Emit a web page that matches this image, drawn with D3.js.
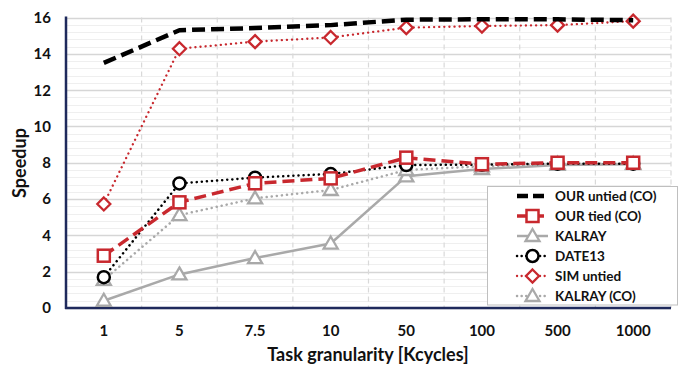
<!DOCTYPE html>
<html>
<head>
<meta charset="utf-8">
<script src="https://cdn.jsdelivr.net/npm/d3@7"></script>
<style>
  body { margin: 0; background: #fff; }
  text { font-family: Lato, "Open Sans", sans-serif; font-weight: bold; fill: #111; }
</style>
</head>
<body>
<svg class="chart" width="682" height="369"></svg>
<script>
// catégories (axe x) et séries
const categories = ["1", "5", "7.5", "10", "50", "100", "500", "1000"];
const yTicks = [0, 2, 4, 6, 8, 10, 12, 14, 16];

const ourUntied = [13.5, 15.3, 15.42, 15.58, 15.88, 15.9, 15.9, 15.85];
const ourTied   = [2.88, 5.82, 6.87, 7.14, 8.28, 7.92, 8.0, 8.0];
const kalray    = [0.4, 1.85, 2.75, 3.55, 7.25, 7.65, 7.88, 7.92];
const date13    = [1.7, 6.86, 7.18, 7.38, 7.87, 7.9, 7.95, 7.95];
const simUntied = [5.73, 14.28, 14.67, 14.9, 15.44, 15.53, 15.58, 15.8];
const kalrayCO  = [1.55, 5.12, 6.04, 6.5, 7.6, 7.8, 7.95, 7.95];

const red = "#c8282e";
const grey = "#a9a9a9";

const series = [
  { name: "OUR untied (CO)", values: ourUntied, color: "#000", width: 4.5, dash: "13,6", cap: "butt", marker: null },
  { name: "OUR tied (CO)", values: ourTied, color: red, width: 3.5, dash: "12,6", cap: "butt", marker: "square" },
  { name: "KALRAY", values: kalray, color: grey, width: 2.5, dash: null, cap: "butt", marker: "triangle" },
  { name: "DATE13", values: date13, color: "#000", width: 2.5, dash: "0.1,5", cap: "round", marker: "circle" },
  { name: "SIM untied", values: simUntied, color: red, width: 2.3, dash: "0.1,5", cap: "round", marker: "diamond" },
  { name: "KALRAY (CO)", values: kalrayCO, color: grey, width: 2.5, dash: "0.1,5", cap: "round", marker: "triangle" }
];

// ordre de dessin (le premier plan à la fin)
const drawOrder = ["KALRAY", "KALRAY (CO)", "DATE13", "OUR tied (CO)", "SIM untied", "OUR untied (CO)"];

const svg = d3.select(".chart");
const plotL = 66, plotR = 671, plotT = 17.5, plotB = 308;

const band = d3.scaleBand().domain(categories).range([plotL, plotR]);
const x = d3.scalePoint().domain(categories).range([plotL, plotR]).padding(0.5);
const y = d3.scaleLinear().domain([0, 16]).range([plotB, plotT]);

// grille mineure
svg.append("g").selectAll("line")
  .data(d3.range(0, 16.01, 0.4))
  .enter().append("line")
  .attr("x1", plotL).attr("x2", plotR)
  .attr("y1", d => Math.round(y(d)) + 0.5).attr("y2", d => Math.round(y(d)) + 0.5)
  .attr("stroke", "#efefef").attr("stroke-width", 1);

// grille majeure
svg.append("g").selectAll("line")
  .data(yTicks)
  .enter().append("line")
  .attr("x1", plotL).attr("x2", plotR)
  .attr("y1", d => Math.round(y(d)) + 0.5).attr("y2", d => Math.round(y(d)) + 0.5)
  .attr("stroke", "#d6d6d6").attr("stroke-width", 1.3);

// grille verticale pointillée
const bounds = categories.slice(1).map(c => band(c)).concat([plotR]);
svg.append("g").selectAll("line")
  .data(bounds)
  .enter().append("line")
  .attr("x1", d => d).attr("x2", d => d)
  .attr("y1", plotT).attr("y2", plotB)
  .attr("stroke", "#d9d9d9").attr("stroke-width", 1.2)
  .attr("stroke-dasharray", "5,4");

// axes
svg.append("line").attr("x1", plotL).attr("x2", plotL).attr("y1", plotT - 1).attr("y2", plotB + 1)
  .attr("stroke", "#1f2a5c").attr("stroke-width", 2.5);
svg.append("line").attr("x1", plotL - 1).attr("x2", plotR).attr("y1", plotB).attr("y2", plotB)
  .attr("stroke", "#1f2a5c").attr("stroke-width", 2.5);

// étiquettes
svg.append("g").selectAll("text")
  .data(yTicks)
  .enter().append("text")
  .attr("x", 51).attr("y", d => y(d)).attr("dy", "0.36em")
  .attr("text-anchor", "end").attr("font-size", 15)
  .text(d => d);

svg.append("g").selectAll("text")
  .data(categories)
  .enter().append("text")
  .attr("x", d => x(d)).attr("y", 336)
  .attr("text-anchor", "middle").attr("font-size", 15)
  .text(d => d);

svg.append("text").attr("x", 368).attr("y", 361)
  .attr("text-anchor", "middle").attr("font-size", 18)
  .text("Task granularity [Kcycles]");

svg.append("text").attr("transform", "translate(26,163) rotate(-90)")
  .attr("text-anchor", "middle").attr("font-size", 18)
  .text("Speedup");

// marqueurs
function drawMarker(g, type, color, cx, cy) {
  if (type === "square") {
    g.append("rect").attr("x", cx - 6).attr("y", cy - 6).attr("width", 12).attr("height", 12)
      .attr("fill", "#fff").attr("stroke", color).attr("stroke-width", 2.5);
  } else if (type === "circle") {
    g.append("circle").attr("cx", cx).attr("cy", cy).attr("r", 6)
      .attr("fill", "#fff").attr("stroke", color).attr("stroke-width", 2.5);
  } else if (type === "diamond") {
    g.append("path").attr("d", `M${cx},${cy - 6.5}L${cx + 6.5},${cy}L${cx},${cy + 6.5}L${cx - 6.5},${cy}Z`)
      .attr("fill", "#fff").attr("stroke", color).attr("stroke-width", 2.3);
  } else if (type === "triangle") {
    g.append("path").attr("d", `M${cx},${cy - 7}L${cx + 7},${cy + 5}L${cx - 7},${cy + 5}Z`)
      .attr("fill", "#fff").attr("stroke", color).attr("stroke-width", 2.3);
  }
}

const line = d3.line()
  .x((d, i) => x(categories[i]))
  .y(d => y(d));

drawOrder.forEach(name => {
  const s = series.find(e => e.name === name);
  const g = svg.append("g");
  g.append("path").datum(s.values)
    .attr("d", line)
    .attr("fill", "none")
    .attr("stroke", s.color)
    .attr("stroke-width", s.width)
    .attr("stroke-linecap", s.cap)
    .attr("stroke-linejoin", "round")
    .attr("stroke-dasharray", s.dash);
  if (s.marker) {
    s.values.forEach((v, i) => drawMarker(g, s.marker, s.color, x(categories[i]), y(v)));
  }
});

// légende
const lg = svg.append("g");
lg.append("rect").attr("x", 487.5).attr("y", 186.5).attr("width", 190).attr("height", 118.5)
  .attr("fill", "#fff").attr("stroke", "#bfbfbf").attr("stroke-width", 1);

series.forEach((s, i) => {
  const ly = 196 + i * 20;
  const g = lg.append("g");
  g.append("line").attr("x1", 517).attr("x2", 548).attr("y1", ly).attr("y2", ly)
    .attr("stroke", s.color).attr("stroke-width", s.width)
    .attr("stroke-linecap", s.cap)
    .attr("stroke-dasharray", s.dash === "0.1,5" ? "0.1,4.5" : (s.dash ? "11,5" : null));
  if (s.marker) drawMarker(g, s.marker, s.color, 532.5, ly);
  g.append("text").attr("x", 555).attr("y", ly).attr("dy", "0.36em")
    .attr("font-size", 13.5).text(s.name);
});
</script>
</body>
</html>
